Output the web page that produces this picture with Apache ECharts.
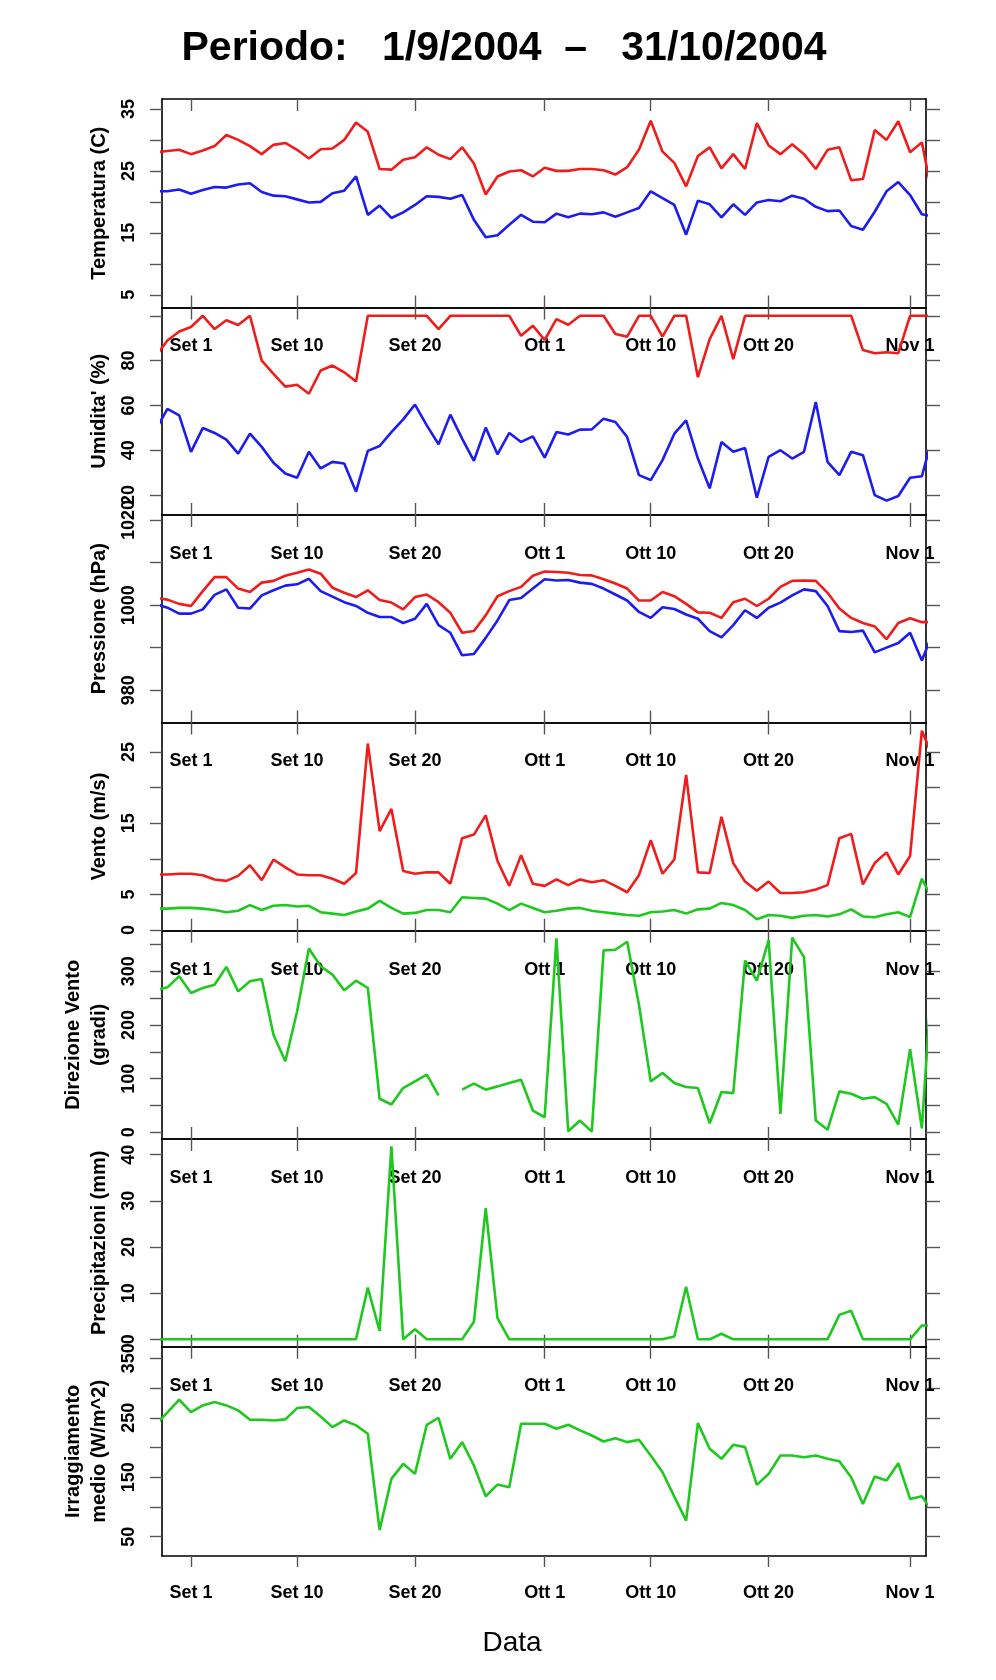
<!DOCTYPE html>
<html lang="it">

<head>
  <meta charset="utf-8" />
  <script src="https://cdn.jsdelivr.net/npm/echarts@6.0.0/dist/echarts.min.js"></script>
</head>

<body style="margin: 0; background: #ffffff">
  <div id="container" style="width: 996px; height: 1680px"></div>

  <script type="text/javascript">
    // giorni contati da Set 1 (= 0); le serie partono dal giorno -3
    var FIRST_DAY = -3;
    var dateTicks = [0, 9, 19, 30, 39, 49, 61];
    var dateLabels = ["Set 1", "Set 10", "Set 20", "Ott 1", "Ott 10", "Ott 20", "Nov 1"];

    var tempMax = [28.0, 28.2, 28.4,
      27.7, 28.3, 29.0, 30.8, 30.0, 29.0, 27.7, 29.2, 29.5, 28.4,
      27.0, 28.5, 28.6, 30.0, 32.8, 31.3, 25.3, 25.2, 26.8, 27.2,
      28.8, 27.6, 26.9, 28.8, 26.2, 21.2, 24.1, 24.9, 25.1, 24.1,
      25.5, 25.0, 25.0, 25.3, 25.3, 25.1, 24.4, 25.6, 28.4, 33.1,
      28.1, 26.3, 22.5, 27.4, 28.8, 25.4, 27.7, 25.3, 32.7, 29.1,
      27.7, 29.3, 27.7, 25.3, 28.4, 28.8, 23.5, 23.7, 31.6, 30.0,
      33.0, 28.0, 29.6, 20.0];
    var tempMin = [21.7, 21.7, 22.0,
      21.3, 21.9, 22.4, 22.3, 22.8, 23.0, 21.6, 21.0, 20.9, 20.4,
      19.9, 20.0, 21.4, 21.8, 24.1, 17.9, 19.4, 17.4, 18.3, 19.5,
      20.9, 20.8, 20.5, 21.1, 17.1, 14.3, 14.6, 16.3, 17.9, 16.8,
      16.7, 18.1, 17.5, 18.1, 18.0, 18.3, 17.6, 18.3, 19.0, 21.7,
      20.6, 19.5, 14.7, 20.2, 19.6, 17.5, 19.6, 17.9, 19.9, 20.3,
      20.1, 21.0, 20.5, 19.2, 18.5, 18.6, 16.1, 15.5, 18.4, 21.7,
      23.2, 21.1, 18.0, 17.6];

    var humMax = [82, 89, 93,
      95, 100, 94.1, 98, 95.9, 100, 80, 74.1, 68.4, 69.2,
      65.2, 75.6, 77.8, 74.8, 70.7, 100, 100, 100, 100, 100,
      100, 94.1, 100, 100, 100, 100, 100, 100, 91.1, 95.6,
      89.2, 98.5, 96.0, 100, 100, 100, 91.9, 90.7, 100, 100,
      90.7, 100, 100, 72.6, 89.6, 100, 80.7, 100, 100, 100,
      100, 100, 100, 100, 100, 100, 100, 84.7, 83.3, 83.7,
      83.3, 100, 100, 100];
    var humMin = [49, 58.5, 55.6,
      39.3, 49.9, 47.7, 44.7, 38.5, 47.4, 41.5, 34.4, 29.6, 27.7,
      39.3, 31.9, 34.8, 34.1, 21.5, 39.7, 41.9, 48.1, 53.8, 60.4,
      51.1, 42.7, 55.9, 45.2, 35.3, 50.1, 38.2, 47.7, 43.7, 46.2,
      36.7, 48.1, 47.0, 49.2, 49.3, 54.1, 52.6, 45.9, 28.9, 26.7,
      35.6, 47.4, 53.3, 36.3, 23.0, 43.7, 39.3, 41.0, 18.8, 37.0,
      40.0, 36.3, 39.3, 61.5, 34.8, 28.9, 39.3, 37.8, 20.0, 17.5,
      19.6, 27.7, 28.4, 48];

    var pressMax = [1001.7, 1001.3, 1000.3,
      999.8, 1003.3, 1006.6, 1006.6, 1003.9, 1003.1, 1005.3, 1005.7, 1006.9, 1007.6,
      1008.4, 1007.4, 1004.1, 1002.9, 1001.9, 1003.5, 1001.2, 1000.6, 999.0, 1001.9,
      1002.5, 1000.7, 998.2, 993.5, 993.9, 997.6, 1002.1, 1003.3, 1004.3, 1006.9,
      1007.9, 1007.8, 1007.6, 1007.1, 1007.0, 1006.1, 1005.1, 1003.9, 1001.1, 1001.1,
      1003.1, 1002.1, 1000.3, 998.3, 998.2, 997.0, 1000.7, 1001.5, 999.8, 1001.5,
      1004.3, 1005.7, 1005.8, 1005.7, 1002.9, 999.2, 997.0, 995.8, 995.0, 992.0,
      995.8, 996.9, 996.0, 996.0];
    var pressMin = [1000.3, 999.4, 998.0,
      998.0, 999.0, 1002.4, 1003.7, 999.4, 999.2, 1002.3, 1003.5, 1004.6, 1004.9,
      1006.2, 1003.3, 1002.0, 1000.7, 999.8, 998.2, 997.2, 997.2, 995.8, 996.8,
      1000.3, 995.3, 993.5, 988.2, 988.5, 992.3, 996.4, 1001.2, 1001.7, 1003.9,
      1006.1, 1005.8, 1005.9, 1005.3, 1005.0, 1003.9, 1002.5, 1001.1, 998.4, 997.0,
      999.5, 999.1, 997.8, 996.8, 993.9, 992.4, 995.3, 998.8, 997.0, 999.4,
      1000.6, 1002.3, 1003.7, 1003.3, 999.8, 993.9, 993.7, 994.0, 988.9, 990.0,
      991.1, 993.5, 987.0, 994.0];

    var windMax = [7.8, 7.8, 7.9,
      7.9, 7.7, 7.1, 6.9, 7.6, 9.1, 7.0, 9.9, 8.8, 7.8,
      7.7, 7.7, 7.2, 6.5, 8.0, 26.2, 13.9, 17.0, 8.3, 7.9,
      8.1, 8.1, 6.5, 12.9, 13.4, 16.1, 9.7, 6.2, 10.5, 6.5,
      6.2, 7.1, 6.3, 7.1, 6.7, 7.0, 6.2, 5.3, 7.7, 12.6,
      7.9, 9.9, 21.8, 8.1, 8.0, 15.9, 9.4, 6.8, 5.5, 6.8,
      5.2, 5.2, 5.3, 5.7, 6.3, 12.9, 13.5, 6.4, 9.4, 10.9,
      7.8, 10.4, 28.0, 24.0];
    var windMean = [3.0, 3.0, 3.1,
      3.1, 3.0, 2.8, 2.5, 2.7, 3.5, 2.8, 3.4, 3.5, 3.3,
      3.4, 2.5, 2.3, 2.1, 2.6, 3.0, 4.1, 3.1, 2.3, 2.4,
      2.8, 2.8, 2.5, 4.6, 4.5, 4.4, 3.7, 2.8, 3.7, 3.1,
      2.5, 2.7, 3.0, 3.1, 2.7, 2.5, 2.3, 2.1, 2.0, 2.5,
      2.6, 2.8, 2.3, 2.9, 3.0, 3.8, 3.5, 2.8, 1.5, 2.1,
      2.0, 1.7, 2.0, 2.1, 1.9, 2.2, 2.9, 1.9, 1.8, 2.2,
      2.5, 1.8, 7.2, 4.0];

    var windDir = [265, 270, 290.6,
      259.4, 268.8, 275, 308.1, 262.5, 281.3, 285.6, 181.3, 132.5, 225,
      342.5, 309.4, 293.8, 264.4, 282.5, 268.8, 62.5, 51.9, 82.5, 95,
      107.5, 68.8, null, 79.4, 90.6, 79.4, 85.6, 91.9, 98.1, 40.6,
      28.1, 361.3, 1.9, 21.9, 1.3, 338.8, 340, 355, 237.5, 95,
      110.6, 91.9, 84.4, 82.5, 16.9, 75, 73.1, 320, 282.5, 358.1,
      34.4, 362.5, 326.3, 21.9, 5, 76.3, 71.9, 62.5, 65.6, 53.1,
      14.4, 155, 7.5, 340];

    var rain = [0, 0, 0,
      0, 0, 0, 0, 0, 0, 0, 0, 0, 0,
      0, 0, 0, 0, 0, 11.2, 1.8, 41.8, 0, 2.2,
      0, 0, 0, 0, 3.8, 28.4, 4.6, 0, 0, 0,
      0, 0, 0, 0, 0, 0, 0, 0, 0, 0,
      0, 0.6, 11.4, 0, 0, 1.2, 0, 0, 0, 0,
      0, 0, 0, 0, 0, 5.3, 6.2, 0, 0, 0,
      0, 0, 3.0, 3.0];

    var irradiance = [238, 259, 280.3,
      259.6, 270.8, 276.4, 270.8, 262.4, 246.6, 246.6, 245.5, 247.2, 266.3,
      268, 252.2, 234.3, 245.5, 237.1, 223, 61.2, 147.2, 172.5, 155.6,
      238.2, 250, 180.9, 209, 169.7, 118, 137.6, 133.1, 239.9, 239.9,
      239.9, 231.5, 238.2, 228.7, 220.2, 210.1, 215.7, 209, 212.9, 186.5,
      158.4, 117.4, 77, 241, 197.8, 180.9, 204.5, 200.6, 137.1, 155.6,
      186.5, 186.5, 183.7, 186.5, 180.9, 177, 150, 105.1, 151.1, 144.4,
      173.6, 113.5, 118, 89];

    var RED = "#f01c1c";
    var BLUE = "#1c1cf0";
    var GREEN = "#1fc81f";

    var panels = [
      { name: "Temperatura (C)", min: 2.95, max: 36.6,
        ticks: [5, 10, 15, 20, 25, 30, 35], labels: [5, 15, 25, 35],
        lines: [[tempMax, RED], [tempMin, BLUE]] },
      { name: "Umidita' (%)", min: 11.1, max: 103.7,
        ticks: [20, 40, 60, 80, 100], labels: [20, 40, 60, 80],
        lines: [[humMax, RED], [humMin, BLUE]] },
      { name: "Pressione (hPa)", min: 972.4, max: 1021.2,
        ticks: [980, 990, 1000, 1010, 1020], labels: [980, 1000, 1020],
        lines: [[pressMax, RED], [pressMin, BLUE]] },
      { name: "Vento (m/s)", min: -0.1, max: 29.15,
        ticks: [0, 5, 10, 15, 20, 25], labels: [0, 5, 15, 25],
        lines: [[windMax, RED], [windMean, GREEN]] },
      { name: "Direzione Vento\n(gradi)", min: -12.4, max: 375.5,
        ticks: [0, 50, 100, 150, 200, 250, 300, 350], labels: [0, 100, 200, 300],
        lines: [[windDir, GREEN]] },
      { name: "Precipitazioni (mm)", min: -1.6, max: 43.4,
        ticks: [0, 10, 20, 30, 40], labels: [0, 10, 20, 30, 40],
        lines: [[rain, GREEN]] },
      { name: "Irraggiamento\nmedio (W/m^2)", min: 17.5, max: 369.5,
        ticks: [50, 100, 150, 200, 250, 300, 350], labels: [50, 150, 250, 350],
        lines: [[irradiance, GREEN]] }
    ];

    // bordi dei pannelli (px)
    var edges = [99, 307.5, 515, 722.5, 930.7, 1139, 1346.7, 1556];
    var X_MIN = -2.46, X_MAX = 62.35;
    var FONT = "Liberation Sans";

    function pairs(values) {
      return values.map(function (v, i) { return [FIRST_DAY + i, v]; });
    }

    var grid = [], xAxis = [], yAxis = [], series = [];
    var border = { show: true, onZero: false, lineStyle: { color: "#000", width: 1.6 } };
    var tickStyle = { color: "#555", width: 1.4 };

    panels.forEach(function (p, i) {
      var last = i === panels.length - 1;
      grid.push({
        left: 162, right: 70,
        top: edges[i], height: edges[i + 1] - edges[i],
        outerBoundsMode: "none"
      });
      xAxis.push({
        gridIndex: i, type: "value", position: "bottom",
        min: X_MIN, max: X_MAX,
        axisLine: border,
        splitLine: { show: false },
        axisTick: { customValues: dateTicks, inside: !last, length: last ? 11 : 12, lineStyle: tickStyle },
        axisLabel: {
          customValues: dateTicks,
          formatter: function (v) { return dateLabels[dateTicks.indexOf(v)]; },
          margin: last ? 28 : 30,
          color: "#000", fontFamily: FONT, fontWeight: "bold", fontSize: 18
        }
      });
      xAxis.push({
        gridIndex: i, type: "value", position: "top",
        min: X_MIN, max: X_MAX,
        axisLine: border,
        splitLine: { show: false },
        axisTick: { customValues: dateTicks, inside: true, length: 12, lineStyle: tickStyle },
        axisLabel: { show: false }
      });
      yAxis.push({
        gridIndex: i, type: "value", position: "left",
        min: p.min, max: p.max,
        axisLine: border,
        splitLine: { show: false },
        axisTick: { customValues: p.ticks, length: 12, lineStyle: tickStyle },
        axisLabel: {
          customValues: p.labels, rotate: 90, margin: 24,
          formatter: function (v) { return String(v); },
          color: "#000", fontFamily: FONT, fontWeight: "bold", fontSize: 18
        },
        name: p.name, nameLocation: "middle", nameGap: 50,
        nameTextStyle: { color: "#000", fontFamily: FONT, fontWeight: "bold", fontSize: 20, lineHeight: 26 }
      });
      yAxis.push({
        gridIndex: i, type: "value", position: "right",
        min: p.min, max: p.max,
        axisLine: border,
        splitLine: { show: false },
        axisTick: { customValues: p.ticks, length: 14, lineStyle: tickStyle },
        axisLabel: { show: false }
      });
      p.lines.forEach(function (l) {
        series.push({
          type: "line",
          xAxisIndex: 2 * i, yAxisIndex: 2 * i,
          data: pairs(l[0]),
          symbol: "none", showSymbol: false,
          clip: true,
          lineStyle: { color: l[1], width: 2.6 },
          itemStyle: { color: l[1] }
        });
      });
    });

    var myChart = echarts.init(document.getElementById("container"), null, { renderer: "canvas" });
    myChart.setOption({
      animation: false,
      backgroundColor: "#ffffff",
      title: [
        {
          text: "Periodo:   1/9/2004  \u2013   31/10/2004",
          left: 499, top: 23, textAlign: "center",
          textStyle: { color: "#000", fontFamily: FONT, fontWeight: "bold", fontSize: 41 }
        },
        {
          text: "Data",
          left: 507, top: 1624, textAlign: "center",
          textStyle: { color: "#000", fontFamily: FONT, fontWeight: "normal", fontSize: 28 }
        }
      ],
      grid: grid,
      xAxis: xAxis,
      yAxis: yAxis,
      series: series
    });
  </script>
</body>

</html>
